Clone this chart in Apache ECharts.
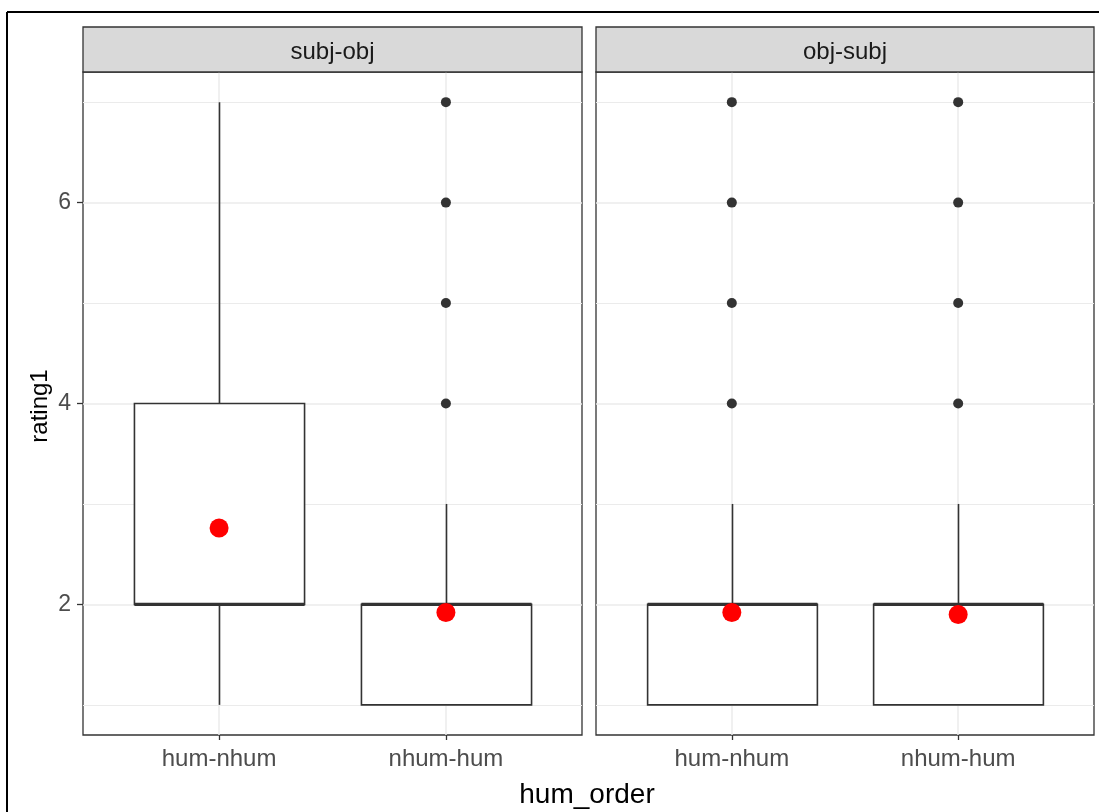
<!DOCTYPE html>
<html>
<head>
<meta charset="utf-8">
<script src="https://cdn.jsdelivr.net/npm/echarts@6/dist/echarts.min.js"></script>
<style>
  html, body { margin: 0; padding: 0; background: #fff; }
  #chart { width: 1099px; height: 812px; }
</style>
</head>
<body>
<div id="chart"></div>
<script>
// Facets and x categories
const facets = ['subj-obj', 'obj-subj'];
const categories = ['hum-nhum', 'nhum-hum'];

// Box statistics per category: [lower whisker, Q1, median, Q3, upper whisker]
const boxSubjObj = [[1, 2, 2, 4, 7], [1, 1, 2, 2, 3]];
const boxObjSubj = [[1, 1, 2, 2, 3], [1, 1, 2, 2, 3]];

// Outlying ratings per category
const outliersSubjObj = [[], [4, 5, 6, 7]];
const outliersObjSubj = [[4, 5, 6, 7], [4, 5, 6, 7]];

// Mean rating per category (red dots)
const meansSubjObj = [2.76, 1.92];
const meansObjSubj = [1.92, 1.90];

// Axis ticks and grid lines
const yTicks = [2, 4, 6];
const yMinor = [1, 3, 5, 7];
const xTicks = [1, 2];

const FONT = 'Liberation Sans, Arial, sans-serif';
const INK = '#333333';
const panels = [
  { left: 83, width: 499 },
  { left: 596, width: 498 }
];
const PANEL_TOP = 72, PANEL_H = 663, STRIP_TOP = 27;

const boxes = [boxSubjObj, boxObjSubj];
const outliers = [outliersSubjObj, outliersObjSubj];
const means = [meansSubjObj, meansObjSubj];

const chart = echarts.init(document.getElementById('chart'), null, { renderer: 'canvas' });

const grid = panels.map(p => ({
  left: p.left, top: PANEL_TOP, width: p.width, height: PANEL_H,
  show: true, borderColor: INK, borderWidth: 1.3, backgroundColor: '#fff'
}));

const xAxis = panels.map((p, i) => ({
  type: 'value', gridIndex: i, min: 0.4, max: 2.6,
  axisLine: { show: false },
  splitLine: { show: false },
  axisTick: { show: true, customValues: xTicks, length: 5, lineStyle: { color: INK, width: 1.3 } },
  axisLabel: {
    show: true, customValues: xTicks, margin: 12,
    formatter: v => categories[Math.round(v) - 1] || '',
    color: '#4D4D4D', fontFamily: FONT, fontSize: 24
  }
}));

const yAxis = panels.map((p, i) => ({
  type: 'value', gridIndex: i, min: 0.7, max: 7.3,
  axisLine: { show: false },
  splitLine: { show: false },
  axisTick: { show: i === 0, customValues: yTicks, length: 6, lineStyle: { color: INK, width: 1.3 } },
  axisLabel: {
    show: i === 0, customValues: yTicks, margin: 12,
    color: '#4D4D4D', fontFamily: FONT, fontSize: 23
  }
}));

const series = [];

panels.forEach((p, i) => {
  // Panel grid lines (kept underneath the boxes)
  series.push({
    type: 'line', xAxisIndex: i, yAxisIndex: i, data: [], silent: true, z: 1,
    markLine: {
      silent: true, symbol: 'none', label: { show: false }, animation: false, z: 1,
      data: [
        ...yMinor.map(v => ({ yAxis: v, lineStyle: { color: '#EBEBEB', width: 1, type: 'solid' } })),
        ...yTicks.map(v => ({ yAxis: v, lineStyle: { color: '#EBEBEB', width: 1.5, type: 'solid' } })),
        ...xTicks.map(v => ({ xAxis: v, lineStyle: { color: '#EBEBEB', width: 1.5, type: 'solid' } }))
      ]
    }
  });

  // Box-and-whisker glyphs
  series.push({
    type: 'custom', xAxisIndex: i, yAxisIndex: i, z: 10,
    data: boxes[i].map((b, k) => [k + 1, ...b]),
    renderItem: (params, api) => {
      const x = api.value(0);
      const lo = api.coord([x, api.value(1)]);
      const q1 = api.coord([x, api.value(2)]);
      const md = api.coord([x, api.value(3)]);
      const q3 = api.coord([x, api.value(4)]);
      const hi = api.coord([x, api.value(5)]);
      const w = api.size([0.75, 0])[0];
      const cx = Math.round(lo[0]) + 0.5;
      const line = { stroke: INK, lineWidth: 1.6, opacity: 1 };
      return {
        type: 'group',
        children: [
          { type: 'line', shape: { x1: cx, y1: q3[1], x2: cx, y2: hi[1] }, style: line },
          { type: 'line', shape: { x1: cx, y1: q1[1], x2: cx, y2: lo[1] }, style: line },
          { type: 'rect', shape: { x: cx - w / 2, y: q3[1], width: w, height: q1[1] - q3[1] },
            style: { fill: '#fff', stroke: INK, lineWidth: 1.6, opacity: 1 } },
          { type: 'line', shape: { x1: cx - w / 2, y1: md[1], x2: cx + w / 2, y2: md[1] },
            style: { stroke: INK, lineWidth: 3.2, opacity: 1 } }
        ]
      };
    }
  });

  // Outliers
  const pts = [];
  outliers[i].forEach((arr, k) => arr.forEach(v => pts.push([k + 1, v])));
  series.push({
    type: 'scatter', xAxisIndex: i, yAxisIndex: i, z: 11,
    symbol: 'circle', symbolSize: 10, data: pts,
    itemStyle: { color: INK, opacity: 1, borderWidth: 0 }
  });

  // Means
  series.push({
    type: 'scatter', xAxisIndex: i, yAxisIndex: i, z: 12,
    symbol: 'circle', symbolSize: 19,
    data: means[i].map((v, k) => [k + 1, v]),
    itemStyle: { color: '#FF0000', opacity: 1, borderWidth: 0 }
  });
});

const graphic = [];
panels.forEach((p, i) => {
  graphic.push({
    type: 'rect', z: 10,
    shape: { x: p.left, y: STRIP_TOP, width: p.width, height: PANEL_TOP - STRIP_TOP },
    style: { fill: '#D9D9D9', stroke: INK, lineWidth: 1.3 }
  });
  graphic.push({
    type: 'text', z: 11,
    x: p.left + p.width / 2, y: 52,
    style: { text: facets[i], fill: '#1A1A1A', font: '24px ' + FONT, align: 'center', verticalAlign: 'middle' }
  });
});
// Axis titles
graphic.push({
  type: 'text', z: 11, x: 587, y: 795,
  style: { text: 'hum_order', fill: '#000', font: '28px ' + FONT, align: 'center', verticalAlign: 'middle' }
});
graphic.push({
  type: 'text', z: 11, x: 40, y: 406, rotation: Math.PI / 2,
  style: { text: 'rating1', fill: '#000', font: '24px ' + FONT, align: 'center', verticalAlign: 'middle' }
});
// Outer frame
graphic.push({ type: 'line', z: 12, shape: { x1: 7, y1: 12, x2: 1099, y2: 12 }, style: { stroke: '#000', lineWidth: 2 } });
graphic.push({ type: 'line', z: 12, shape: { x1: 7, y1: 12, x2: 7, y2: 812 }, style: { stroke: '#000', lineWidth: 2 } });

chart.setOption({
  animation: false,
  backgroundColor: '#fff',
  grid, xAxis, yAxis, series, graphic
});
</script>
</body>
</html>
